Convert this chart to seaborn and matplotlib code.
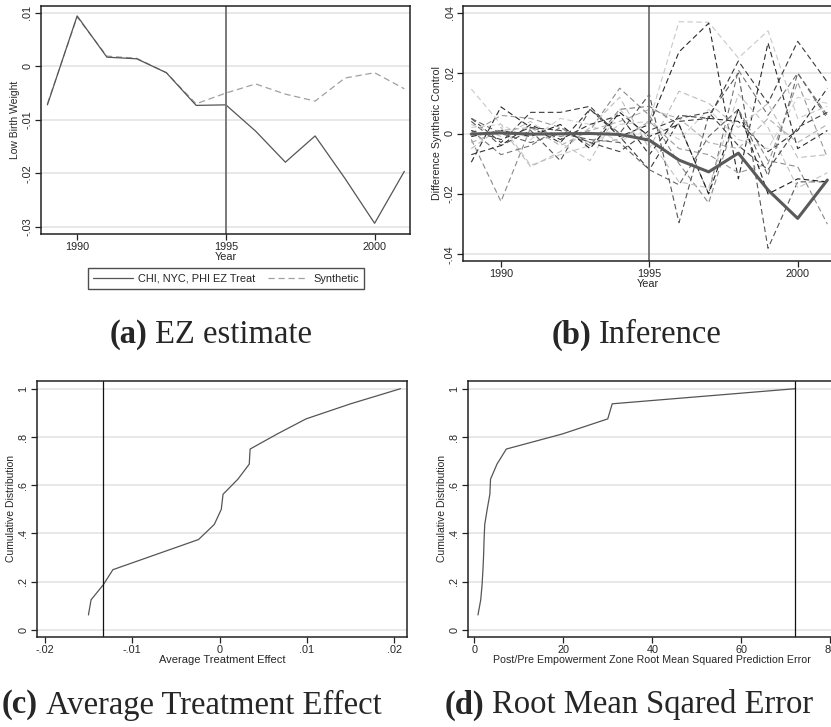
import numpy as np
import pandas as pd
import matplotlib
matplotlib.use("Agg")
import matplotlib.pyplot as plt
import seaborn as sns

sns.set_theme(style="white")
plt.rcParams['font.family'] = ['Liberation Sans', 'DejaVu Sans']

# ---- data ----
years = list(range(1989, 2002))

# (a) treated vs synthetic low birth weight
treated = [-0.0072, 0.0094, 0.0017, 0.0014, -0.0012, -0.0073, -0.0072,
           -0.0121, -0.0179, -0.0130, -0.0209, -0.0293, -0.0196]
synthetic = [-0.0070, 0.0092, 0.0019, 0.0015, -0.0012, -0.0070, -0.0050,
             -0.0033, -0.0052, -0.0065, -0.0022, -0.0012, -0.0042]

# (b) placebo gaps (dashed) and their grey shade
placebo_gaps = [
    [0.0147, 0.0030, -0.0105, -0.0070, -0.0040, 0.0030, 0.0040, 0.0370, 0.0368, 0.0250, 0.0340, 0.0050, 0.0090],
    [-0.0095, 0.0088, 0.0020, -0.0030, 0.0080, -0.0010, 0.0030, 0.0270, 0.0365, -0.0150, 0.0300, -0.0050, 0.0010],
    [-0.0020, -0.0225, 0.0020, -0.0010, 0.0010, 0.0150, 0.0060, -0.0100, -0.0230, 0.0080, -0.0090, -0.0110, -0.0300],
    [0.0050, -0.0030, 0.0070, 0.0070, 0.0090, -0.0010, -0.0120, 0.0040, 0.0050, 0.0240, 0.0100, 0.0305, 0.0170],
    [0.0040, -0.0040, 0.0010, -0.0090, 0.0080, 0.0000, 0.0130, -0.0295, 0.0060, 0.0200, -0.0380, -0.0160, -0.0160],
    [-0.0050, 0.0020, -0.0110, -0.0060, 0.0020, 0.0120, -0.0050, 0.0140, 0.0100, 0.0020, 0.0100, -0.0080, -0.0070],
    [0.0010, -0.0070, -0.0040, 0.0020, -0.0040, 0.0080, 0.0090, 0.0030, -0.0200, 0.0210, 0.0060, 0.0200, 0.0060],
    [-0.0070, -0.0040, 0.0030, -0.0020, 0.0030, 0.0060, -0.0070, 0.0060, 0.0050, 0.0040, -0.0060, 0.0010, 0.0150],
    [0.0030, -0.0010, 0.0040, -0.0030, -0.0090, 0.0080, -0.0020, -0.0160, -0.0180, 0.0130, 0.0020, -0.0180, -0.0130],
    [0.0000, 0.0060, 0.0050, 0.0020, -0.0030, -0.0020, 0.0040, -0.0050, -0.0070, -0.0130, -0.0100, 0.0170, -0.0080],
    [-0.0010, 0.0010, -0.0010, 0.0030, -0.0050, 0.0070, -0.0010, 0.0030, -0.0200, 0.0080, -0.0200, -0.0150, -0.0160],
    [0.0020, 0.0030, -0.0020, 0.0050, 0.0030, -0.0030, 0.0040, -0.0020, 0.0080, -0.0020, -0.0050, 0.0120, 0.0100],
    [0.0050, 0.0000, -0.0030, 0.0000, -0.0020, -0.0030, -0.0120, -0.0170, -0.0010, 0.0080, -0.0140, 0.0200, 0.0050],
    [-0.0030, 0.0010, 0.0020, -0.0040, 0.0010, 0.0040, 0.0080, 0.0050, -0.0030, -0.0050, 0.0050, -0.0030, 0.0030],
    [0.0010, -0.0020, 0.0020, 0.0010, -0.0030, -0.0060, 0.0010, 0.0050, 0.0070, -0.0040, -0.0120, 0.0020, 0.0070],
]
placebo_shades = ['#c8c8c8', '#2a2a2a', '#8a8a8a', '#3a3a3a', '#555555',
                  '#bdbdbd', '#777777', '#303030', '#c4c4c4', '#999999',
                  '#1e1e1e', '#d0d0d0', '#666666', '#b0b0b0', '#444444']

# (c) average treatment effects, sorted
ate_values = [-0.0150, -0.0147, -0.0133, -0.0122, -0.0073, -0.0024, -0.0006, 0.0002,
              0.0004, 0.0021, 0.0034, 0.0035, 0.0066, 0.0099, 0.0150, 0.0207]
ate_treated = -0.0133

# (d) post/pre RMSPE ratio, sorted
rmspe_values = [0.83, 1.45, 1.75, 1.95, 2.1, 2.2, 2.35, 2.9, 3.5, 3.65,
                5.1, 7.2, 19.8, 30.0, 31.0, 72.1]
rmspe_treated = 72.1

cdf = [(i + 1) / len(ate_values) for i in range(len(ate_values))]

W, H = 831, 727
fig = plt.figure(figsize=(W / 100, H / 100), dpi=100)


def add_axes(l, r, t, b):
    return fig.add_axes([l / W, 1 - b / H, (r - l) / W, (b - t) / H])


def stata_style(ax, yticks, ylabels, xticks, xlabels):
    ax.set_facecolor('white')
    for s in ax.spines.values():
        s.set_visible(True)
        s.set_color('#222222')
        s.set_linewidth(1.1)
    for y in yticks:
        ax.axhline(y, color='#e6e6e6', lw=1.3, zorder=0)
    ax.set_yticks(yticks)
    ax.set_yticklabels(ylabels, rotation=90, va='center', fontsize=7.8)
    ax.set_xticks(xticks)
    ax.set_xticklabels(xlabels, fontsize=7.8)
    ax.tick_params(axis='both', direction='out', length=4, width=0.9,
                   color='#222222', pad=2, left=True, bottom=True)
    ax.grid(False)


# ---- (a) EZ estimate ----
ax = add_axes(40.7, 410, 6, 234)
sns.lineplot(x=years, y=synthetic, ax=ax, color='#a0a0a0', lw=0.9,
             linestyle=(0, (5, 3)), label='Synthetic')
sns.lineplot(x=years, y=treated, ax=ax, color='#555555', lw=0.9,
             label='CHI, NYC, PHI EZ Treat')
ax.axvline(1995, color='#707070', lw=1.3)
ax.set_xlim(1988.775, 2001.19)
ax.set_ylim(-0.0313, 0.01125)
stata_style(ax, [0.01, 0, -0.01, -0.02, -0.03], ['.01', '0', '-.01', '-.02', '-.03'],
            [1990, 1995, 2000], ['1990', '1995', '2000'])
ax.set_xlabel('Year', fontsize=7.8, labelpad=0)
ax.set_ylabel('Low Birth Weight', fontsize=7.5, labelpad=2)
h, lab = ax.get_legend_handles_labels()
ax.legend([h[1], h[0]], [lab[1], lab[0]], ncol=2, fontsize=7.9, frameon=True,
          fancybox=False, edgecolor='#222222', handlelength=3.6, columnspacing=1.2,
          handletextpad=0.5, loc='center', bbox_to_anchor=(226 / W, 1 - 278.5 / H),
          bbox_transform=fig.transFigure, borderpad=0.5)
ax.get_legend().get_frame().set_linewidth(1.0)

# ---- (b) Inference ----
ax = add_axes(463.3, 833, 6, 261)
for vals, c in zip(placebo_gaps, placebo_shades):
    sns.lineplot(x=years, y=vals, ax=ax, color=c, lw=0.8, linestyle=(0, (5, 3)))
gap = [t - s for t, s in zip(treated, synthetic)]
sns.lineplot(x=years, y=gap, ax=ax, color='#5a5a5a', lw=2.2)
ax.axvline(1995, color='#707070', lw=1.3)
ax.set_xlim(1988.73, 2001.19)
ax.set_ylim(-0.0422, 0.0422)
stata_style(ax, [0.04, 0.02, 0, -0.02, -0.04], ['.04', '.02', '0', '-.02', '-.04'],
            [1990, 1995, 2000], ['1990', '1995', '2000'])
ax.set_xlabel('Year', fontsize=7.8, labelpad=0)
ax.set_ylabel('Difference Synthetic Control', fontsize=7.7, labelpad=2)

# ---- (c) Average treatment effect ----
ax = add_axes(36.7, 407, 381, 636.7)
sns.lineplot(x=ate_values, y=cdf, ax=ax, color='#555555', lw=0.9, sort=False)
ax.axvline(ate_treated, color='#111111', lw=0.9)
ax.set_xlim(-0.02092, 0.02145)
ax.set_ylim(-0.0278, 1.032)
stata_style(ax, [0, 0.2, 0.4, 0.6, 0.8, 1], ['0', '.2', '.4', '.6', '.8', '1'],
            [-0.02, -0.01, 0, 0.01, 0.02], ['-.02', '-.01', '0', '.01', '.02'])
ax.set_xlabel('Average Treatment Effect', fontsize=8.0, labelpad=0)
ax.set_ylabel('Cumulative Distribution', fontsize=7.5, labelpad=2)

# ---- (d) RMSPE ----
ax = add_axes(467.7, 836, 381, 636.7)
sns.lineplot(x=rmspe_values, y=cdf, ax=ax, color='#555555', lw=0.9, sort=False)
ax.axvline(rmspe_treated, color='#111111', lw=0.9)
ax.set_xlim(-1.48, 81.3)
ax.set_ylim(-0.0278, 1.032)
stata_style(ax, [0, 0.2, 0.4, 0.6, 0.8, 1], ['0', '.2', '.4', '.6', '.8', '1'],
            [0, 20, 40, 60, 80], ['0', '20', '40', '60', '80'])
ax.set_xlabel('Post/Pre Empowerment Zone Root Mean Squared Prediction Error',
              fontsize=7.7, labelpad=0)
ax.set_ylabel('Cumulative Distribution', fontsize=7.5, labelpad=2)

# ---- captions ----
captions = [('(a)', 'EZ estimate', 147, 335),
            ('(b)', 'Inference', 591, 335),
            ('(c)', 'Average Treatment Effect', 38, 705),
            ('(d)', 'Root Mean Sqared Error', 484, 705)]
for tag, txt, xs, yc in captions:
    fig.text(xs / W, 1 - yc / H, tag, ha='right', va='center', fontsize=23.5,
             family='Liberation Serif', weight='bold')
    fig.text((xs + 8) / W, 1 - yc / H, txt, ha='left', va='center', fontsize=23.5,
             family='Liberation Serif')

fig.savefig('out.png', dpi=100)
